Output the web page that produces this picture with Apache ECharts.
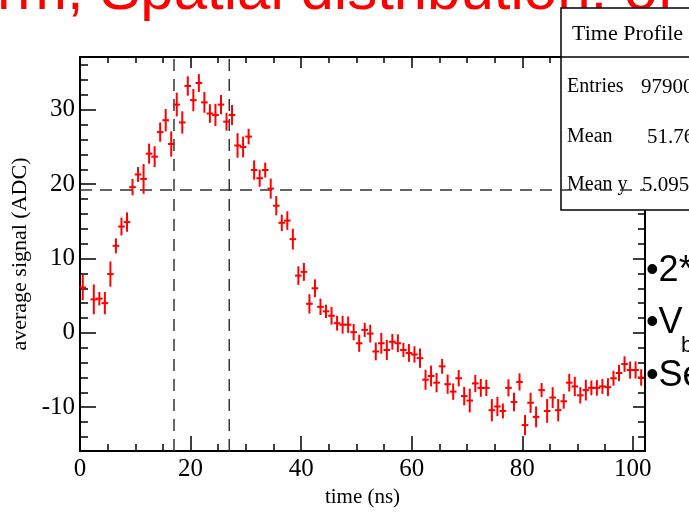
<!DOCTYPE html>
<html>
<head>
<meta charset="utf-8">
<script src="https://cdn.jsdelivr.net/npm/echarts@6/dist/echarts.min.js"></script>
<style>
  html, body { margin: 0; padding: 0; background: #fff; }
  #chart { width: 689px; height: 513px; }
</style>
</head>
<body>
<div id="chart"></div>
<script>
// 时间 (ns) 每个 bin 的中心, 1.5 这个 bin 没有点
var times = [0.5, 2.5, 3.5, 4.5, 5.5, 6.5, 7.5, 8.5, 9.5, 10.5,
  11.5, 12.5, 13.5, 14.5, 15.5, 16.5, 17.5, 18.5, 19.5, 20.5,
  21.5, 22.5, 23.5, 24.5, 25.5, 26.5, 27.5, 28.5, 29.5, 30.5,
  31.5, 32.5, 33.5, 34.5, 35.5, 36.5, 37.5, 38.5, 39.5, 40.5,
  41.5, 42.5, 43.5, 44.5, 45.5, 46.5, 47.5, 48.5, 49.5, 50.5,
  51.5, 52.5, 53.5, 54.5, 55.5, 56.5, 57.5, 58.5, 59.5, 60.5,
  61.5, 62.5, 63.5, 64.5, 65.5, 66.5, 67.5, 68.5, 69.5, 70.5,
  71.5, 72.5, 73.5, 74.5, 75.5, 76.5, 77.5, 78.5, 79.5, 80.5,
  81.5, 82.5, 83.5, 84.5, 85.5, 86.5, 87.5, 88.5, 89.5, 90.5,
  91.5, 92.5, 93.5, 94.5, 95.5, 96.5, 97.5, 98.5, 99.5, 100.5, 101.5];

// 平均信号 (ADC)
var signal = [6.1, 4.5, 4.6, 4.0, 7.9, 11.7, 14.3, 14.9, 19.6, 21.3,
  20.7, 24.1, 23.7, 27.0, 28.6, 25.4, 30.7, 28.3, 33.2, 31.3,
  33.6, 31.0, 29.5, 29.3, 30.7, 28.4, 29.3, 25.2, 25.0, 26.4,
  21.9, 20.8, 21.9, 19.4, 17.1, 14.8, 15.1, 12.6, 7.7, 8.2,
  3.9, 6.0, 3.5, 2.9, 2.3, 1.3, 1.1, 1.1, 0.1, -1.4,
  0.4, -0.1, -2.5, -1.4, -2.3, -1.2, -1.4, -2.3, -2.7, -2.9,
  -3.4, -6.3, -5.8, -6.7, -4.5, -6.9, -7.9, -6.1, -8.5, -9.1,
  -6.8, -7.4, -7.4, -10.4, -9.9, -10.5, -7.4, -9.3, -6.6, -12.4,
  -9.4, -11.3, -7.7, -10.5, -8.7, -10.4, -9.2, -6.7, -7.2, -8.4,
  -7.7, -7.4, -7.4, -7.2, -7.3, -6.1, -5.4, -4.2, -5.0, -5.0, -6.0];

// 误差
var errors = [1.7, 2.0, 0.9, 1.5, 1.7, 1.0, 1.2, 1.3, 1.1, 1.0,
  2.0, 1.35, 1.4, 1.3, 1.5, 1.7, 1.6, 1.5, 1.3, 1.5,
  1.2, 1.4, 1.25, 1.5, 1.3, 1.2, 1.35, 1.65, 1.4, 1.05,
  1.3, 1.15, 1.0, 1.35, 1.3, 1.1, 1.25, 1.4, 1.25, 1.2,
  1.3, 1.2, 1.1, 0.9, 1.2, 1.0, 1.2, 1.1, 1.1, 1.15,
  0.95, 1.2, 1.2, 1.4, 1.35, 1.05, 1.2, 0.95, 1.2, 1.1,
  1.3, 1.35, 1.4, 1.3, 1.0, 1.3, 1.1, 1.1, 1.25, 1.6,
  1.15, 1.2, 1.1, 1.5, 1.3, 1.0, 1.15, 1.25, 1.15, 1.35,
  1.35, 1.4, 0.95, 1.6, 1.4, 1.5, 1.0, 1.2, 1.3, 1.1,
  1.4, 1.0, 1.05, 1.0, 1.2, 1.0, 1.1, 1.05, 1.15, 1.15, 1.1];

var binHalf = 0.6;
var cutTimes = [17, 27];
var meanLevel = 19.2;

// 轴的范围和刻度
var xMin = 0, xMax = 102.2;
var yMin = -15.9, yMax = 37.1;
var xMajor = [0, 20, 40, 60, 80, 100];
var xMinor = [5, 10, 15, 25, 30, 35, 45, 50, 55, 65, 70, 75, 85, 90, 95];
var yMajor = [-10, 0, 10, 20, 30];
var yMinor = [-14, -12, -8, -6, -4, -2, 2, 4, 6, 8, 12, 14, 16, 18,
  22, 24, 26, 28, 32, 34, 36];

// 统计框
var statsTitle = 'Time Profile';
var statsNames = ['Entries', 'Mean', 'Mean y'];
var statsValues = ['97900', '51.76', '5.095'];

var points = times.map(function (t, i) { return [t, signal[i], errors[i]]; });

var myChart = echarts.init(document.getElementById('chart'));

var serif = 'Liberation Serif, Times New Roman, serif';
var sans = 'Liberation Sans, Arial, sans-serif';

function xAxisDef(pos, ticks, len, showLine, labels) {
  return {
    type: 'value', position: pos, min: xMin, max: xMax,
    axisLine: { show: showLine, onZero: false, lineStyle: { color: '#000', width: 2 } },
    axisTick: { show: true, inside: true, length: len, customValues: ticks,
      lineStyle: { color: '#000', width: 1.5 } },
    axisLabel: labels ? { customValues: labels, color: '#000', fontFamily: serif,
      fontSize: 25, margin: 6 } : { show: false },
    splitLine: { show: false }
  };
}

function yAxisDef(pos, ticks, len, showLine, labels) {
  return {
    type: 'value', position: pos, min: yMin, max: yMax,
    axisLine: { show: showLine, onZero: false, lineStyle: { color: '#000', width: 2 } },
    axisTick: { show: true, inside: true, length: len, customValues: ticks,
      lineStyle: { color: '#000', width: 1.5 } },
    axisLabel: labels ? { customValues: labels, color: '#000', fontFamily: serif,
      fontSize: 25, margin: 5 } : { show: false },
    splitLine: { show: false }
  };
}

var xAxes = [
  xAxisDef('bottom', xMajor, 15, true, xMajor),
  xAxisDef('top', xMajor, 11, true, null),
  xAxisDef('bottom', xMinor, 7, false, null),
  xAxisDef('top', xMinor, 6, false, null)
];
xAxes[0].name = 'time (ns)';
xAxes[0].nameLocation = 'middle';
xAxes[0].nameGap = 29;
xAxes[0].nameTextStyle = { color: '#000', fontFamily: serif, fontSize: 21 };

var yAxes = [
  yAxisDef('left', yMajor, 16, true, yMajor),
  yAxisDef('right', yMajor, 12, true, null),
  yAxisDef('left', yMinor, 8, false, null),
  yAxisDef('right', yMinor, 7, false, null)
];
yAxes[0].name = 'average signal (ADC)';
yAxes[0].nameLocation = 'middle';
yAxes[0].nameGap = 48;
yAxes[0].nameTextStyle = { color: '#000', fontFamily: serif, fontSize: 22 };

var dash = { color: '#333', width: 1.5, type: [12, 8] };
var dashSeries = cutTimes.map(function (t) {
  return {
    type: 'line', symbol: 'none', silent: true, z: 3,
    data: [[t, yMin], [t, yMax]], lineStyle: dash
  };
});
dashSeries.push({
  type: 'line', symbol: 'none', silent: true, z: 3,
  data: [[xMin, meanLevel], [xMax, meanLevel]], lineStyle: dash
});

var option = {
  backgroundColor: '#fff',
  animation: false,
  grid: { left: 80, right: 44, top: 57, bottom: 53 },
  xAxis: xAxes,
  yAxis: yAxes,
  series: [{
    type: 'custom',
    z: 4,
    data: points,
    renderItem: function (params, api) {
      var x = api.value(0), y = api.value(1), e = api.value(2);
      var top = api.coord([x, y + e]);
      var bot = api.coord([x, y - e]);
      var l = api.coord([x - binHalf, y]);
      var r = api.coord([x + binHalf, y]);
      var st = { stroke: '#ff0000', lineWidth: 2 };
      return {
        type: 'group',
        children: [
          { type: 'line', shape: { x1: top[0], y1: top[1], x2: bot[0], y2: bot[1] }, style: st },
          { type: 'line', shape: { x1: l[0], y1: l[1], x2: r[0], y2: r[1] }, style: st }
        ]
      };
    }
  }].concat(dashSeries),
  graphic: [
    // 幻灯片标题 (被截掉一半)
    { type: 'text', left: -3, top: -38, z: 0,
      style: { text: 'rm, Spatial distribution, of', fill: '#ff0000',
        font: '60px ' + sans } },
    // 统计框
    { type: 'rect', z: 1, shape: { x: 561, y: 8, width: 200, height: 202 },
      style: { fill: '#fff', stroke: '#000', lineWidth: 1.5 } },
    { type: 'line', z: 1, shape: { x1: 561, y1: 57, x2: 689, y2: 57 },
      style: { stroke: '#000', lineWidth: 1.5 } },
    { type: 'text', z: 2, x: 572, y: 34,
      style: { text: statsTitle, fill: '#000', font: '22px ' + serif, verticalAlign: 'middle' } },
    { type: 'text', z: 2, x: 567, y: 87,
      style: { text: statsNames[0], fill: '#000', font: '20px ' + serif, verticalAlign: 'middle' } },
    { type: 'text', z: 2, x: 567, y: 137,
      style: { text: statsNames[1], fill: '#000', font: '20px ' + serif, verticalAlign: 'middle' } },
    { type: 'text', z: 2, x: 567, y: 185,
      style: { text: statsNames[2], fill: '#000', font: '20px ' + serif, verticalAlign: 'middle' } },
    { type: 'text', z: 2, x: 641, y: 87,
      style: { text: statsValues[0], fill: '#000', font: '21px ' + serif, verticalAlign: 'middle' } },
    { type: 'text', z: 2, x: 647, y: 137,
      style: { text: statsValues[1], fill: '#000', font: '21px ' + serif, verticalAlign: 'middle' } },
    { type: 'text', z: 2, x: 642, y: 185,
      style: { text: statsValues[2], fill: '#000', font: '21px ' + serif, verticalAlign: 'middle' } },
    // 右边的要点
    { type: 'text', z: 5, x: 646, y: 271,
      style: { text: '•2*', fill: '#000', font: '36px ' + sans, verticalAlign: 'middle' } },
    { type: 'text', z: 5, x: 646, y: 323,
      style: { text: '•V', fill: '#000', font: '36px ' + sans, verticalAlign: 'middle' } },
    { type: 'text', z: 5, x: 681, y: 346,
      style: { text: 'b', fill: '#000', font: '22px ' + sans, verticalAlign: 'middle' } },
    { type: 'text', z: 5, x: 646, y: 376,
      style: { text: '•Se', fill: '#000', font: '36px ' + sans, verticalAlign: 'middle' } }
  ]
};

myChart.setOption(option);
</script>
</body>
</html>
